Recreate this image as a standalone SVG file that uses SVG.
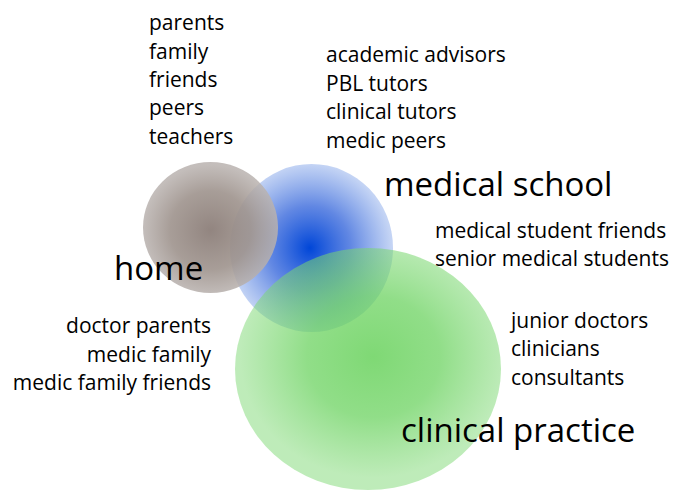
<svg xmlns="http://www.w3.org/2000/svg" width="674" height="490" viewBox="0 0 674 490">
<style>
  text { font-family: "Open Sans", "Liberation Sans", sans-serif; fill: #000; }
  .s { font-size: 21px; }
  .b { font-size: 33px; }
  .r { text-anchor: end; }
</style>
<defs>
  <radialGradient id="gBlue" cx="0.49" cy="0.5" r="0.5">
    <stop offset="0" stop-color="#0046d8" stop-opacity="1"/>
    <stop offset="0.5" stop-color="#2459d8" stop-opacity="0.72"/>
    <stop offset="1" stop-color="#3a6fdc" stop-opacity="0.3"/>
  </radialGradient>
  <radialGradient id="gGray" cx="0.5" cy="0.52" r="0.5">
    <stop offset="0" stop-color="#928580" stop-opacity="1"/>
    <stop offset="0.6" stop-color="#a0958f" stop-opacity="0.92"/>
    <stop offset="1" stop-color="#b9b2af" stop-opacity="0.85"/>
  </radialGradient>
  <radialGradient id="gGreen" cx="0.52" cy="0.45" r="0.5">
    <stop offset="0" stop-color="#5fcf52" stop-opacity="0.8"/>
    <stop offset="0.5" stop-color="#66d15a" stop-opacity="0.72"/>
    <stop offset="1" stop-color="#7dd873" stop-opacity="0.5"/>
  </radialGradient>
</defs>
<g id="medical-school">
  <ellipse cx="311.5" cy="248" rx="81.5" ry="84" fill="url(#gBlue)"/>
</g>
<g id="home">
  <ellipse cx="210.5" cy="227.5" rx="67.5" ry="65.5" fill="url(#gGray)"/>
</g>
<g id="clinical-practice">
  <ellipse cx="368" cy="369" rx="133" ry="121" fill="url(#gGreen)"/>
</g>
<g id="labels">
  <text class="s" x="149" y="30">parents</text>
  <text class="s" x="149" y="59">family</text>
  <text class="s" x="149" y="87">friends</text>
  <text class="s" x="149" y="115">peers</text>
  <text class="s" x="149" y="144">teachers</text>
  <text class="s" x="326" y="62">academic advisors</text>
  <text class="s" x="326" y="91">PBL tutors</text>
  <text class="s" x="326" y="119">clinical tutors</text>
  <text class="s" x="326" y="148">medic peers</text>
  <text class="b" x="384" y="196">medical school</text>
  <text class="s" x="435" y="238">medical student friends</text>
  <text class="s" x="435" y="266">senior medical students</text>
  <text class="b" x="114" y="280">home</text>
  <text class="s r" x="211" y="333">doctor parents</text>
  <text class="s r" x="211" y="362">medic family</text>
  <text class="s r" x="211" y="390">medic family friends</text>
  <text class="s" x="511" y="328">junior doctors</text>
  <text class="s" x="511" y="356">clinicians</text>
  <text class="s" x="511" y="385">consultants</text>
  <text class="b" x="401" y="442">clinical practice</text>
</g>
<g id="connectors"/>
</svg>
